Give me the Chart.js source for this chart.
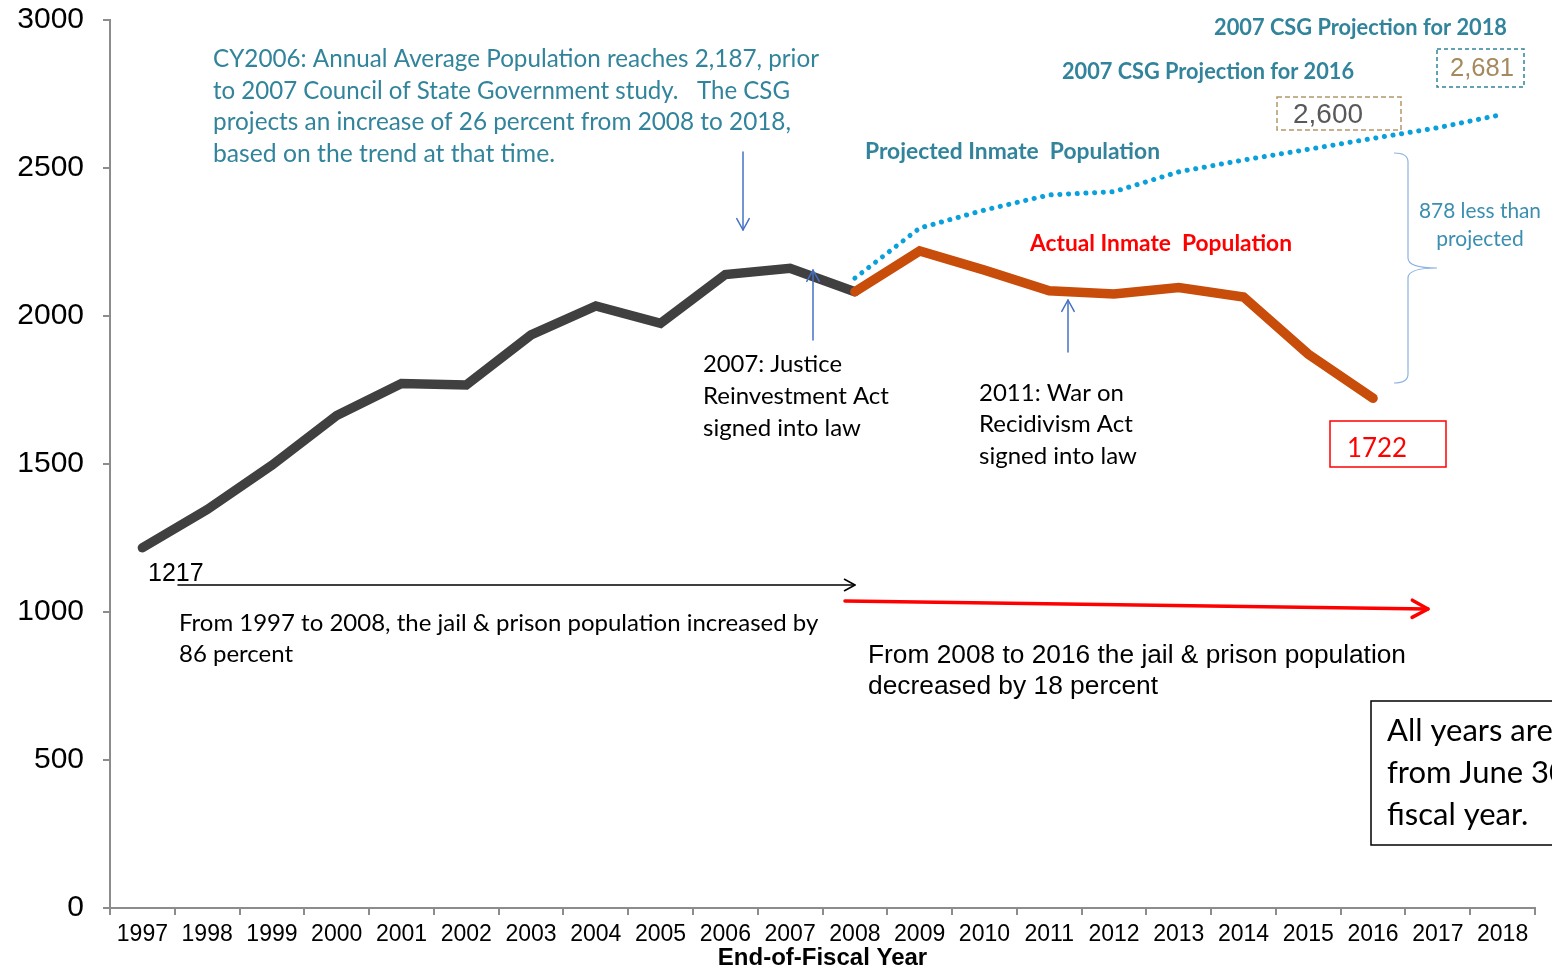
<!DOCTYPE html>
<html>
<head>
<meta charset="utf-8">
<script src="https://cdn.jsdelivr.net/npm/chart.js@4"></script>
<style>
  html, body { margin: 0; padding: 0; background: #fff; }
  #wrap { width: 1552px; height: 973px; overflow: hidden; }
</style>
</head>
<body>
<div id="wrap"><canvas id="chart" width="1552" height="973"></canvas></div>
<script>
// ============================
// Data
// ============================
const years = ["1997","1998","1999","2000","2001","2002","2003","2004","2005","2006","2007",
               "2008","2009","2010","2011","2012","2013","2014","2015","2016","2017","2018"];
const actualBefore = [1217, 1346, 1496, 1664, 1772, 1767, 1936, 2034, 1975, 2140, 2161, 2082];
const actualAfter = [2082, 2220, 2155, 2085, 2074, 2096, 2064, 1871, 1722];
const projected = [2128, 2297, 2358, 2409, 2420, 2487, 2527, 2563, 2600, 2636, 2681];
const yTicks = [0, 500, 1000, 1500, 2000, 2500, 3000];

const pad = (arr, before, total) => {
    const out = Array(before).fill(null).concat(arr);
    while (out.length < total) out.push(null);
    return out;
};

const CAL = "Lato, 'Open Sans', sans-serif";
const ARIAL = "'Liberation Sans', Arial, sans-serif";
const NARROW = "'Liberation Sans Narrow', 'Liberation Sans', Arial, sans-serif";
const TEAL = "#31849b";
const BLUE = "#4472c4";

// text helper: maxWidth squeezes wider fonts down to the reference width
function txt(ctx, s, x, y, font, color, w, align) {
    ctx.font = font;
    ctx.fillStyle = color;
    ctx.textAlign = align || "left";
    ctx.textBaseline = "middle";
    if (w) ctx.fillText(s, x, y, w); else ctx.fillText(s, x, y);
}

function arrow(ctx, x1, y1, x2, y2, color, lw, head) {
    const a = Math.atan2(y2 - y1, x2 - x1);
    ctx.save();
    ctx.strokeStyle = color; ctx.lineWidth = lw; ctx.lineCap = "round"; ctx.lineJoin = "round";
    ctx.beginPath(); ctx.moveTo(x1, y1); ctx.lineTo(x2, y2); ctx.stroke();
    ctx.beginPath();
    ctx.moveTo(x2 - head * Math.cos(a - 0.5), y2 - head * Math.sin(a - 0.5));
    ctx.lineTo(x2, y2);
    ctx.lineTo(x2 - head * Math.cos(a + 0.5), y2 - head * Math.sin(a + 0.5));
    ctx.stroke();
    ctx.restore();
}

function dashedBox(ctx, x, y, w, h, color, dash) {
    ctx.save();
    ctx.strokeStyle = color; ctx.lineWidth = 1.5;
    if (dash) ctx.setLineDash(dash);
    ctx.strokeRect(x, y, w, h);
    ctx.restore();
}

const notes = {
    id: "notes",
    afterDraw(chart) {
        const ctx = chart.ctx;
        ctx.save();

        // CSG paragraph
        const para = [
            ["CY2006: Annual Average Population reaches 2,187, prior", 606],
            ["to 2007 Council of State Government study.   The CSG", 577],
            ["projects an increase of 26 percent from 2008 to 2018,", 578],
            ["based on the trend at that time.", 342]
        ];
        para.forEach((p, i) => txt(ctx, p[0], 213, 59 + i * 31.5, `25px ${CAL}`, TEAL, p[1]));
        arrow(ctx, 743, 152, 743, 230, BLUE, 1.5, 13);

        // 2007 act
        [["2007: Justice", 139], ["Reinvestment Act", 189], ["signed into law", 161]]
            .forEach((p, i) => txt(ctx, p[0], 703, 364 + i * 32, `24px ${CAL}`, "#000", p[1]));
        arrow(ctx, 813, 340, 813, 270, BLUE, 1.5, 13);

        // 2011 act
        [["2011: War on", 145], ["Recidivism Act", 155], ["signed into law", 161]]
            .forEach((p, i) => txt(ctx, p[0], 979, 393 + i * 31.5, `24px ${CAL}`, "#000", p[1]));
        arrow(ctx, 1068, 352, 1068, 300, BLUE, 1.5, 13);

        // series labels
        txt(ctx, "Projected Inmate  Population", 865, 152, `bold 23px ${CAL}`, TEAL, 295);
        txt(ctx, "Actual Inmate  Population", 1030, 244, `bold 23px ${CAL}`, "#ff0000", 262);

        // projection callouts
        txt(ctx, "2007 CSG Projection for 2018", 1214, 28, `bold 23px ${CAL}`, TEAL, 293);
        txt(ctx, "2007 CSG Projection for 2016", 1062, 72, `bold 23px ${CAL}`, TEAL, 292);
        dashedBox(ctx, 1437, 49, 87, 38, TEAL, [4, 3]);
        txt(ctx, "2,681", 1450, 69, `26px ${ARIAL}`, "#a58a5e", 64);
        dashedBox(ctx, 1277, 97, 124, 33, "#b49668", [5, 3]);
        txt(ctx, "2,600", 1293, 115, `28px ${ARIAL}`, "#595959", 70);

        // brace
        ctx.strokeStyle = "#8db3e2"; ctx.lineWidth = 1.2;
        ctx.beginPath();
        ctx.moveTo(1394, 153);
        ctx.quadraticCurveTo(1408, 153, 1408, 162);
        ctx.lineTo(1408, 258);
        ctx.quadraticCurveTo(1408, 268, 1437, 268);
        ctx.quadraticCurveTo(1408, 268, 1408, 278);
        ctx.lineTo(1408, 374);
        ctx.quadraticCurveTo(1408, 383, 1394, 383);
        ctx.stroke();
        txt(ctx, "878 less than", 1480, 211, `21px ${CAL}`, "#3a8fb0", 122, "center");
        txt(ctx, "projected", 1480, 239, `21px ${CAL}`, "#3a8fb0", 89, "center");

        // end value
        dashedBox(ctx, 1330, 421, 116, 46, "#ff0000");
        txt(ctx, "1722", 1347, 449, `26px ${CAL}`, "#ff0000", 60);

        // start value and trend arrows
        txt(ctx, "1217", 148, 574, `25px ${ARIAL}`, "#000", 59);
        arrow(ctx, 178, 585, 855, 585, "#000", 1.5, 12);
        arrow(ctx, 845, 601, 1428, 609, "#ff0000", 3.5, 18);
        txt(ctx, "From 1997 to 2008, the jail & prison population increased by", 179, 623, `24px ${CAL}`, "#000", 651);
        txt(ctx, "86 percent", 179, 654, `24px ${CAL}`, "#000", 116);
        txt(ctx, "From 2008 to 2016 the jail & prison population", 868, 656, `26.5px ${ARIAL}`, "#000", 538);
        txt(ctx, "decreased by 18 percent", 868, 687, `26.5px ${ARIAL}`, "#000", 290);

        // fiscal year note
        ctx.strokeStyle = "#000"; ctx.lineWidth = 1.5;
        ctx.strokeRect(1371, 701, 200, 144);
        ["All years are", "from June 30", "fiscal year."]
            .forEach((s, i) => txt(ctx, s, 1387, 731 + i * 42, `31px ${CAL}`, "#000"));

        ctx.restore();
    }
};

new Chart(document.getElementById("chart"), {
    type: "line",
    data: {
        labels: years,
        datasets: [
            {
                label: "Projected",
                data: pad(projected, 11, years.length),
                borderColor: "#0aa0dc",
                borderWidth: 5,
                borderDash: [0.1, 8.6],
                borderCapStyle: "round",
                pointRadius: 0,
                order: 3
            },
            {
                label: "Actual 1997-2008",
                data: pad(actualBefore, 0, years.length),
                borderColor: "#404040",
                borderWidth: 9.5,
                borderCapStyle: "round",
                pointRadius: 0,
                order: 2
            },
            {
                label: "Actual 2008-2016",
                data: pad(actualAfter, 11, years.length),
                borderColor: "#c84c0a",
                borderWidth: 9.5,
                borderCapStyle: "round",
                pointRadius: 0,
                order: 1
            }
        ]
    },
    options: {
        responsive: false,
        animation: false,
        devicePixelRatio: 1,
        layout: { padding: { top: 20, right: 17, left: 0, bottom: 0 } },
        plugins: { legend: { display: false }, tooltip: { enabled: false } },
        scales: {
            x: {
                offset: true,
                grid: { offset: true, drawOnChartArea: false, color: "#8c8c8c", lineWidth: 2, tickLength: 7 },
                border: { color: "#8c8c8c", width: 2 },
                ticks: { color: "#000", font: { family: NARROW, size: 23 }, padding: 6, maxRotation: 0, autoSkip: false },
                title: {
                    display: true, text: "End-of-Fiscal Year", color: "#000",
                    font: { family: NARROW, size: 24, weight: "bold" }, padding: { top: 0, bottom: 0 }
                },
                afterFit(scale) {
                    scale.height = 65;
                    scale.paddingLeft = 0; scale.paddingRight = 0;
                }
            },
            y: {
                min: 0, max: 3000,
                afterBuildTicks(scale) { scale.ticks = yTicks.map(v => ({ value: v })); },
                grid: { drawOnChartArea: false, color: "#8c8c8c", lineWidth: 2, tickLength: 7 },
                border: { color: "#8c8c8c", width: 2 },
                ticks: { color: "#000", font: { family: ARIAL, size: 30 }, padding: 19, callback: v => String(v) },
                afterFit(scale) {
                    scale.width = 110;
                    scale.paddingTop = 0; scale.paddingBottom = 0;
                }
            }
        }
    },
    plugins: [notes]
});
</script>
</body>
</html>
